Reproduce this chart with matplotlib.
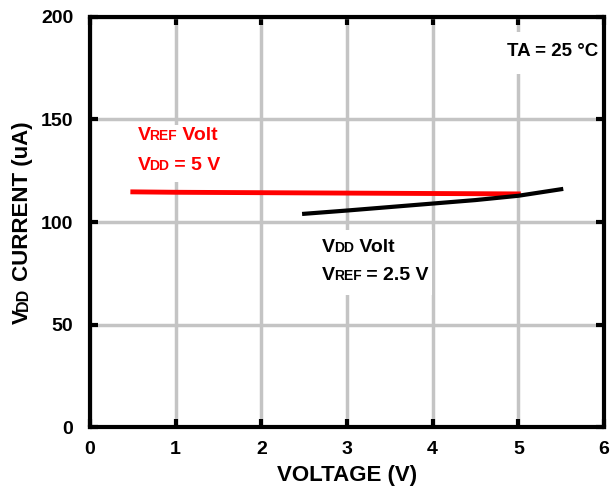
import numpy as np
import matplotlib
matplotlib.use('Agg')
import matplotlib.pyplot as plt
from matplotlib.transforms import offset_copy, Bbox, IdentityTransform
from matplotlib.patches import Rectangle

plt.rcParams['font.family'] = ['Liberation Sans Narrow', 'Liberation Sans', 'DejaVu Sans']
plt.rcParams['font.weight'] = 'bold'

# data
vref_x = [0.5, 1.0, 2.0, 3.0, 4.0, 5.0]
vref_i = [114.7, 114.5, 114.3, 114.1, 113.9, 113.7]

vdd_x = [2.5, 3.0, 3.5, 4.0, 4.5, 5.0, 5.5]
vdd_i = [104.0, 105.6, 107.3, 109.0, 110.7, 112.8, 116.0]

xticks = [0, 1, 2, 3, 4, 5, 6]
yticks = [0, 50, 100, 150, 200]

fig = plt.figure(figsize=(6.12, 4.94), dpi=100)
ax = fig.add_axes([0.147, 0.1356, 0.84, 0.83])

ax.plot(vref_x, vref_i, color='#ff0000', lw=3.5, zorder=3)
ax.plot(vdd_x, vdd_i, color='black', lw=3, zorder=3)

ax.set_xlim(0, 6)
ax.set_ylim(0, 200)
ax.set_xticks(xticks)
ax.set_yticks(yticks)
ax.grid(True, color='#c4c4c4', lw=2.5)
ax.set_axisbelow(True)
for s in ax.spines.values():
    s.set_linewidth(3)
ax.tick_params(direction='in', length=6, width=3, top=True, right=True,
               labelsize=14)
ax.tick_params(axis='x', pad=10)
ax.tick_params(axis='y', pad=12)
for lab in ax.get_xticklabels() + ax.get_yticklabels():
    lab.set_fontweight('bold')
ax.set_xlabel('VOLTAGE (V)', fontsize=16, fontweight='bold', labelpad=5)

fig.canvas.draw()
renderer = fig.canvas.get_renderer()


def mixed_text(x, y, parts, color='black', coords=None, rotation=0):
    # draws pieces of text one after another, each with its own size
    coords = coords if coords is not None else ax.transData
    off = 0.0
    boxes = []
    for s, size in parts:
        if rotation == 0:
            tr = offset_copy(coords, fig=fig, x=off, y=0, units='dots')
        else:
            tr = offset_copy(coords, fig=fig, x=0, y=off, units='dots')
        t = fig.text(x, y, s, transform=tr, fontsize=size, fontweight='bold',
                     color=color, rotation=rotation, ha='left', va='baseline',
                     rotation_mode='anchor', zorder=4)
        bb = t.get_window_extent(renderer)
        boxes.append(bb)
        w = bb.width if rotation == 0 else bb.height
        if s.endswith('V'):
            w -= 1.5  # tighten after the capital V
        off += w
    return Bbox.union(boxes)


def white_patch(boxes, padx=3, ptop=3, pbot=8):
    # white block that hides the grid behind a label
    bb = Bbox.union(boxes)
    r = Rectangle((bb.x0 - padx, bb.y0 - pbot), bb.width + 2 * padx,
                  bb.height + ptop + pbot, transform=IdentityTransform(),
                  fc='white', ec='none', zorder=1)
    ax.add_patch(r)


b1 = mixed_text(0.56, 140, [('V', 14), ('REF', 10), (' Volt', 14)], color='#ff0000')
b2 = mixed_text(0.56, 125.5, [('V', 14), ('DD', 10), (' = 5 V', 14)], color='#ff0000')
white_patch([b1, b2], ptop=2, pbot=8)

b3 = mixed_text(2.71, 85.5, [('V', 14), ('DD', 10), (' Volt', 14)])
b4 = mixed_text(2.71, 71.5, [('V', 14), ('REF', 10), (' = 2.5 V', 14)])
white_patch([b3, b4], ptop=9, pbot=11)

ta = fig.text(5.93, 181, 'TA = 25 °C', transform=ax.transData, fontsize=13.5,
              fontweight='bold', ha='right', va='baseline', zorder=4)
white_patch([ta.get_window_extent(renderer)], ptop=11, pbot=14)

# y label with small caps subscript
ylab = [('V', 16), ('DD', 11.5), (' CURRENT (uA)', 16)]
L = 0.0
for s, size in ylab:
    t = fig.text(0, 0, s, fontsize=size, fontweight='bold')
    L += t.get_window_extent(renderer).width
    t.remove()
y0 = 0.1356 + 0.83 / 2 - L / 2 / 494.0
mixed_text(0.045, y0, ylab, coords=fig.transFigure, rotation=90)

fig.savefig('out.png', dpi=100)
